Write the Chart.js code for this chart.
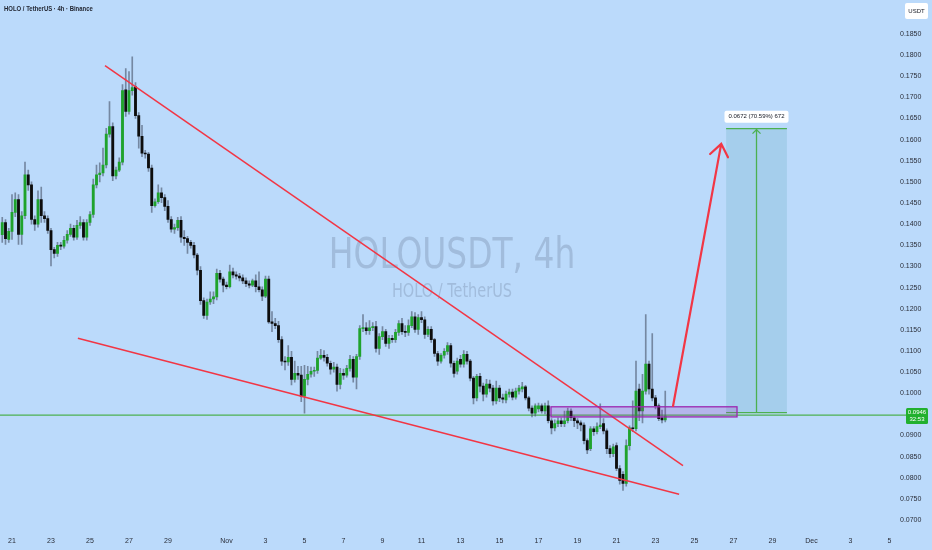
<!DOCTYPE html>
<html>
<head>
<meta charset="utf-8">
<style>
  html, body { margin: 0; padding: 0; background: #bbdafb; }
  canvas { display: block; }
</style>
</head>
<body>
<canvas id="myChart" width="932" height="550"></canvas>

<script src="https://cdn.jsdelivr.net/npm/chart.js@4"></script>

<script>
    // HOLOUSDT 4h candles, prices x10000, one candle every 4h
    // x unit = days from Oct 21, first candle Oct 20 12:00
    const firstDay = -0.5;

    const opens = [
        1375,1404,1364,1383,1428,1458,1376,1420,1517,1493,
        1411,1400,1458,1420,1413,1385,1340,1331,1350,1348,
        1362,1376,1390,1369,1397,1404,1369,1404,1423,1493,
        1517,1521,1540,1613,1631,1514,1528,1547,1718,1667,
        1716,1725,1657,1608,1568,1566,1533,1444,1453,1474,
        1463,1442,1411,1388,1392,1409,1369,1366,1357,1350,
        1327,1291,1219,1184,1216,1223,1228,1284,1270,1256,
        1252,1287,1280,1277,1273,1266,1259,1256,1266,1252,
        1245,1230,1270,1169,1165,1160,1127,1076,1074,1085,
        1033,1047,1043,993,1033,1045,1052,1054,1083,1090,
        1085,1071,1057,1062,1021,1047,1043,1059,1080,1038,
        1087,1153,1155,1148,1155,1158,1106,1134,1146,1118,
        1130,1127,1144,1165,1146,1144,1160,1181,1151,1179,
        1174,1139,1151,1127,1094,1076,1090,1099,1113,1071,
        1052,1080,1069,1092,1076,1036,989,1040,1017,998,
        1022,1012,982,1012,989,984,998,1003,991,1005,
        1010,1015,989,965,953,963,970,958,970,935,
        918,928,935,928,935,958,942,935,930,925,
        888,869,916,909,921,928,911,869,857,876,
        822,808,787,876,918,916,1010,958,1005,1069,
        1010,989,970,942,937
    ];
    const highs = [
        1416,1411,1390,1470,1474,1470,1430,1547,1528,1500,
        1420,1479,1488,1430,1420,1390,1345,1357,1357,1371,
        1385,1400,1397,1409,1418,1411,1411,1430,1507,1540,
        1545,1580,1627,1690,1640,1535,1557,1730,1768,1761,
        1796,1735,1664,1634,1575,1570,1540,1460,1493,1486,
        1470,1456,1418,1400,1416,1418,1385,1371,1362,1357,
        1331,1300,1226,1223,1240,1240,1294,1291,1275,1263,
        1303,1296,1287,1284,1280,1273,1266,1270,1280,1287,
        1252,1277,1277,1193,1177,1170,1134,1087,1113,1099,
        1076,1064,1064,1066,1064,1062,1062,1099,1104,1101,
        1092,1076,1073,1069,1059,1057,1066,1090,1087,1092,
        1160,1186,1167,1172,1167,1170,1141,1158,1151,1137,
        1137,1151,1172,1177,1160,1174,1193,1191,1186,1193,
        1181,1158,1158,1130,1099,1094,1106,1120,1118,1076,
        1083,1090,1101,1099,1080,1040,1045,1047,1024,1033,
        1031,1019,1029,1019,998,1005,1010,1010,1012,1019,
        1026,1019,993,970,975,977,975,977,982,940,
        937,942,942,958,965,963,946,940,935,930,
        892,921,921,930,975,940,916,876,880,883,
        829,815,890,923,982,1076,1022,1045,1186,1076,
        1141,995,975,960,1005
    ];
    const lows = [
        1357,1352,1357,1364,1418,1352,1352,1413,1480,1400,
        1385,1393,1404,1404,1378,1301,1320,1324,1340,1343,
        1355,1371,1362,1364,1390,1362,1362,1397,1416,1486,
        1500,1514,1533,1606,1503,1507,1524,1540,1655,1660,
        1705,1650,1580,1560,1556,1525,1428,1440,1449,1451,
        1432,1404,1381,1378,1385,1357,1350,1331,1343,1320,
        1280,1210,1177,1175,1210,1212,1221,1263,1240,1247,
        1249,1273,1270,1266,1259,1252,1249,1252,1240,1240,
        1219,1226,1165,1146,1153,1120,1066,1055,1066,1020,
        1026,1033,980,953,1020,1038,1040,1047,1080,1076,
        1064,1045,1050,1005,1010,1033,1038,1052,1026,1010,
        1080,1146,1139,1139,1148,1097,1092,1127,1111,1106,
        1120,1120,1137,1139,1134,1137,1155,1144,1139,1167,
        1130,1134,1120,1087,1066,1071,1083,1092,1062,1038,
        1045,1062,1062,1069,1029,975,982,1003,982,991,
        1003,972,975,980,977,977,991,984,986,998,
        1003,984,958,944,946,956,953,951,930,904,
        911,921,921,921,930,935,921,916,911,880,
        857,864,900,904,916,904,857,848,850,817,
        785,770,780,866,909,911,935,930,998,998,
        982,963,935,930,932
    ];
    const closes = [
        1404,1366,1383,1428,1458,1376,1420,1517,1493,1411,
        1400,1458,1420,1413,1385,1340,1331,1350,1348,1362,
        1376,1390,1369,1397,1404,1369,1404,1423,1493,1517,
        1521,1540,1613,1631,1514,1528,1547,1716,1667,1716,
        1723,1657,1608,1568,1566,1533,1444,1453,1474,1463,
        1442,1411,1388,1392,1409,1369,1366,1357,1350,1327,
        1291,1219,1184,1216,1223,1228,1284,1270,1256,1252,
        1287,1280,1277,1273,1266,1259,1256,1266,1252,1245,
        1230,1270,1169,1165,1160,1127,1076,1074,1085,1033,
        1047,1043,993,1033,1045,1052,1054,1083,1090,1085,
        1071,1057,1062,1021,1047,1043,1059,1080,1038,1087,
        1153,1155,1148,1155,1158,1106,1134,1146,1118,1130,
        1127,1144,1165,1146,1144,1160,1181,1151,1179,1174,
        1139,1151,1127,1094,1076,1090,1099,1113,1071,1047,
        1076,1069,1092,1076,1036,989,1040,1017,998,1022,
        1012,982,1012,989,986,998,1003,991,1005,1012,
        1015,989,965,953,970,970,958,970,935,918,
        928,935,928,935,958,942,935,930,925,888,
        866,916,909,921,925,911,869,857,873,822,
        794,787,876,918,916,1005,958,1005,1069,1010,
        989,970,940,937,946
    ];

    // x axis: days from Oct 21
    const xTickDays = [0, 2, 4, 6, 8, 11, 13, 15, 17, 19, 21, 23, 25, 27, 29, 31, 33, 35, 37, 39, 41, 43, 45];
    const xTickLabels = ['21', '23', '25', '27', '29', 'Nov', '3', '5', '7', '9', '11', '13', '15', '17', '19', '21', '23', '25', '27', '29', 'Dec', '3', '5'];
    // 0.0950 is covered by the last price tag
    const yTicks = [0.0700, 0.0750, 0.0800, 0.0850, 0.0900, 0.1000, 0.1050, 0.1100, 0.1150, 0.1200, 0.1250,
        0.1300, 0.1350, 0.1400, 0.1450, 0.1500, 0.1550, 0.1600, 0.1650, 0.1700, 0.1750, 0.1800, 0.1850];

    // drawings (days, price)
    const wedgeTop = [{x: 4.77, y: 0.1775}, {x: 34.41, y: 0.0829}];
    const wedgeBottom = [{x: 3.38, y: 0.1130}, {x: 34.21, y: 0.0761}];
    const arrowPath = [{x: 33.9, y: 0.0970}, {x: 36.37, y: 0.1590}];
    const zone = {from: 27.64, to: 37.18, top: 0.0968, bottom: 0.0944};
    const longPos = {from: 36.62, to: 39.74, entry: 0.0954, target: 0.1626, text: '0.0672 (70.59%) 672'};
    const lastPrice = closes[closes.length - 1] / 10000;
    const countdown = '32:53';

    const upColor = '#1fa32c';
    const downColor = '#0d0d0d';
    const wickColor = 'rgba(70,82,104,0.6)';
    const redLine = '#f23645';
    const greenLine = '#4cb050';
    const textColor = '#2a2e39';

    let candles = [];
    for (let i = 0; i < closes.length; i++) {
        candles.push({
            x: firstDay + i / 6,
            o: opens[i] / 10000, h: highs[i] / 10000, l: lows[i] / 10000, c: closes[i] / 10000
        });
    }

    function narrowText(c, text, x, y, sx) {
        c.save();
        c.translate(x, y);
        c.scale(sx, 1);
        c.fillText(text, 0, 0);
        c.restore();
    }

    const bgPlugin = {
        id: 'bg',
        beforeDraw(chart) {
            const c = chart.ctx;
            c.save();
            c.fillStyle = '#bbdafb';
            c.fillRect(0, 0, chart.width, chart.height);
            c.restore();
        },
        beforeDatasetsDraw(chart) {
            const c = chart.ctx;
            const a = chart.chartArea;
            const cx = (a.left + a.right) / 2 + 2;
            c.save();
            c.fillStyle = 'rgba(90,105,130,0.26)';
            c.textAlign = 'center';
            c.textBaseline = 'alphabetic';
            c.font = '42px "DejaVu Sans Condensed", "Liberation Sans", sans-serif';
            narrowText(c, 'HOLOUSDT, 4h', cx, 268, 0.87);
            c.font = '19px "DejaVu Sans Condensed", "Liberation Sans", sans-serif';
            narrowText(c, 'HOLO / TetherUS', cx, 297, 0.85);
            c.restore();
        }
    };

    function roundRect(c, x, y, w, h, r) {
        c.beginPath();
        c.moveTo(x + r, y);
        c.lineTo(x + w - r, y);
        c.quadraticCurveTo(x + w, y, x + w, y + r);
        c.lineTo(x + w, y + h - r);
        c.quadraticCurveTo(x + w, y + h, x + w - r, y + h);
        c.lineTo(x + r, y + h);
        c.quadraticCurveTo(x, y + h, x, y + h - r);
        c.lineTo(x, y + r);
        c.quadraticCurveTo(x, y, x + r, y);
        c.closePath();
    }

    const drawingsPlugin = {
        id: 'drawings',
        beforeDatasetsDraw(chart) {
            const c = chart.ctx;
            const xs = chart.scales.x, ys = chart.scales.y;
            const a = chart.chartArea;
            c.save();
            // last price line
            const ly = ys.getPixelForValue(lastPrice) - 1;
            c.strokeStyle = greenLine;
            c.lineWidth = 1.3;
            c.beginPath();
            c.moveTo(a.left, ly);
            c.lineTo(a.right + 6, ly);
            c.stroke();

            // long position box
            const px0 = xs.getPixelForValue(longPos.from), px1 = xs.getPixelForValue(longPos.to);
            const pyE = ys.getPixelForValue(longPos.entry), pyT = ys.getPixelForValue(longPos.target);
            c.fillStyle = 'rgba(135,190,215,0.42)';
            c.fillRect(px0, pyT, px1 - px0, pyE - pyT);
            c.strokeStyle = greenLine;
            c.lineWidth = 1.3;
            c.beginPath();
            c.moveTo(px0, pyT); c.lineTo(px1, pyT);
            c.moveTo(px0, pyE); c.lineTo(px1, pyE);
            const pm = (px0 + px1) / 2;
            c.moveTo(pm, pyE); c.lineTo(pm, pyT);
            c.moveTo(pm - 4, pyT + 5); c.lineTo(pm, pyT + 1); c.lineTo(pm + 4, pyT + 5);
            c.stroke();
            c.restore();
        },
        afterDatasetsDraw(chart) {
            const c = chart.ctx;
            const xs = chart.scales.x, ys = chart.scales.y;
            c.save();
            // purple zone
            const zx0 = xs.getPixelForValue(zone.from), zx1 = xs.getPixelForValue(zone.to);
            const zy0 = ys.getPixelForValue(zone.top), zy1 = ys.getPixelForValue(zone.bottom);
            c.fillStyle = 'rgba(156,39,176,0.2)';
            c.fillRect(zx0, zy0, zx1 - zx0, zy1 - zy0);
            c.strokeStyle = '#9c27b0';
            c.lineWidth = 1.3;
            c.strokeRect(zx0, zy0, zx1 - zx0, zy1 - zy0);

            // red arrow
            const ax0 = xs.getPixelForValue(arrowPath[0].x), ay0 = ys.getPixelForValue(arrowPath[0].y);
            const ax1 = xs.getPixelForValue(arrowPath[1].x), ay1 = ys.getPixelForValue(arrowPath[1].y);
            const back = Math.atan2(ay0 - ay1, ax0 - ax1);
            c.strokeStyle = redLine;
            c.lineWidth = 2.2;
            c.lineCap = 'round';
            c.beginPath();
            c.moveTo(ax0, ay0); c.lineTo(ax1, ay1);
            c.moveTo(ax1 + 15 * Math.cos(back - 0.65), ay1 + 15 * Math.sin(back - 0.65));
            c.lineTo(ax1, ay1);
            c.lineTo(ax1 + 15 * Math.cos(back + 0.65), ay1 + 15 * Math.sin(back + 0.65));
            c.stroke();

            // long position label
            const pm = (xs.getPixelForValue(longPos.from) + xs.getPixelForValue(longPos.to)) / 2;
            const pyT = ys.getPixelForValue(longPos.target);
            c.font = '6px "Liberation Sans", sans-serif';
            const tw = c.measureText(longPos.text).width + 8;
            c.fillStyle = '#ffffff';
            roundRect(c, pm - tw / 2, pyT - 18, tw, 12, 2);
            c.fill();
            c.fillStyle = '#131722';
            c.textAlign = 'center';
            c.textBaseline = 'middle';
            c.fillText(longPos.text, pm, pyT - 12);
            c.restore();
        },
        afterDraw(chart) {
            const c = chart.ctx;
            const ys = chart.scales.y;
            c.save();
            // title
            c.fillStyle = '#1e222d';
            c.font = '600 7px "Liberation Sans", sans-serif';
            c.textBaseline = 'middle';
            c.textAlign = 'left';
            narrowText(c, 'HOLO / TetherUS · 4h · Binance', 4, 9, 0.85);

            // currency box
            c.fillStyle = '#ffffff';
            roundRect(c, 905, 3, 23, 16, 2);
            c.fill();
            c.fillStyle = '#131722';
            c.font = '6px "Liberation Sans", sans-serif';
            c.textAlign = 'center';
            c.fillText('USDT', 916.5, 11);

            // last price tag
            const ly = ys.getPixelForValue(lastPrice) - 1;
            c.fillStyle = '#21b02e';
            roundRect(c, 906, ly - 7, 22, 16, 1.5);
            c.fill();
            c.fillStyle = '#ffffff';
            c.font = '6px "Liberation Sans", sans-serif';
            c.fillText(lastPrice.toFixed(4), 917, ly - 2.5);
            c.fillText(countdown, 917, ly + 4.5);
            c.restore();
        }
    };

    const ctx = document.getElementById('myChart');
    const chart = new Chart(ctx, {
        type: 'bar',
        data: {
            datasets: [
                {
                    type: 'line',
                    data: wedgeTop,
                    borderColor: redLine,
                    borderWidth: 1.5,
                    pointRadius: 0,
                    order: 0
                },
                {
                    type: 'line',
                    data: wedgeBottom,
                    borderColor: redLine,
                    borderWidth: 1.5,
                    pointRadius: 0,
                    order: 0
                },
                {
                    data: candles.map(k => ({x: k.x, y: [Math.min(k.o, k.c), Math.max(k.o, k.c)]})),
                    backgroundColor: candles.map(k => k.c >= k.o ? upColor : downColor),
                    barThickness: 2.2,
                    minBarLength: 1,
                    grouped: false,
                    order: 1
                },
                {
                    data: candles.map(k => ({x: k.x, y: [k.l, k.h]})),
                    backgroundColor: wickColor,
                    barThickness: 1,
                    grouped: false,
                    order: 2
                }
            ]
        },
        options: {
            responsive: false,
            animation: false,
            devicePixelRatio: 1,
            layout: {padding: 0},
            plugins: {
                legend: {display: false},
                tooltip: {enabled: false}
            },
            scales: {
                x: {
                    type: 'linear',
                    offset: false,
                    min: -12 / 19.5,
                    max: 888 / 19.5,
                    grid: {display: false, offset: false, drawTicks: false},
                    border: {display: false},
                    ticks: {
                        autoSkip: false,
                        maxRotation: 0,
                        padding: 7,
                        color: textColor,
                        font: {family: 'Liberation Sans', size: 7},
                        callback: (v, i) => xTickLabels[i]
                    },
                    afterBuildTicks: s => { s.ticks = xTickDays.map(v => ({value: v})); },
                    afterFit: s => { s.height = 20; }
                },
                y: {
                    position: 'right',
                    min: 0.07 - 10 / 4260.8,
                    max: 0.07 + 520 / 4260.8,
                    grid: {display: false, drawTicks: false},
                    border: {display: false},
                    ticks: {
                        padding: 0,
                        crossAlign: 'center',
                        color: textColor,
                        font: {family: 'Liberation Sans', size: 7},
                        callback: v => v.toFixed(4)
                    },
                    afterBuildTicks: s => { s.ticks = yTicks.map(v => ({value: v})); },
                    afterFit: s => { s.width = 32; }
                }
            }
        },
        plugins: [bgPlugin, drawingsPlugin]
    });
</script>
</body>
</html>
